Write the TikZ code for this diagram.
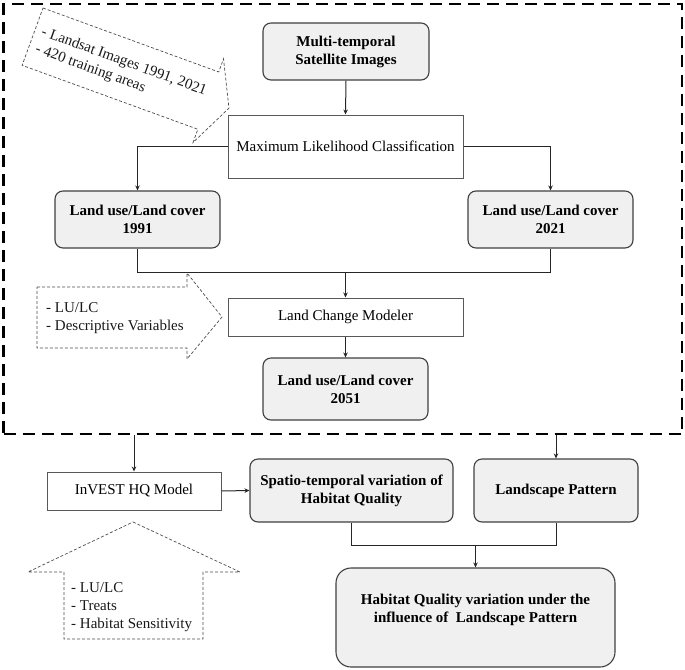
\documentclass[tikz,border=0pt]{standalone}
\usepackage{fontspec}
\setmainfont{Liberation Serif}
\usetikzlibrary{arrows.meta,calc}
\begin{document}
\begin{tikzpicture}[x=1pt,y=-1pt,
  every node/.style={font=\fontsize{15}{18}\selectfont},
  gbox/.style={draw=black!75, line width=1.1pt, fill=black!6, rounded corners=8pt, align=center,
    font=\fontsize{15}{18}\selectfont\bfseries, inner sep=0pt},
  wbox/.style={draw=black!65, line width=1pt, fill=white, align=center, inner sep=0pt},
  arr/.style={draw=black!85, line width=1pt, -{Stealth[length=5pt,width=4.5pt]}},
  ln/.style={draw=black!85, line width=1pt},
  dsh/.style={draw=black!70, line width=0.7pt, dash pattern=on 3pt off 2pt},
  txt/.style={align=left, inner sep=0pt, text=black!90},
  ]
\useasboundingbox (0,0) rectangle (685,669);

% outer dashed frame
\node[draw=black, line width=2.6pt, dash pattern=on 12pt off 7pt, minimum width=678.5pt,
  minimum height=430pt, inner sep=0pt] (outer) at (342.75,219) {};

% boxes inside
\node[gbox, minimum width=166pt, minimum height=57pt] (mts) at (346,51.5) {Multi-temporal\\Satellite Images};
\node[wbox, minimum width=235pt, minimum height=63pt] (mlc) at (345.5,146.5) {Maximum Likelihood Classification};
\node[gbox, minimum width=165pt, minimum height=57pt] (l91) at (137.5,219.5) {Land use/Land cover\\1991};
\node[gbox, minimum width=165pt, minimum height=57pt] (l21) at (550.5,219.5) {Land use/Land cover\\2021};
\node[wbox, minimum width=235pt, minimum height=38pt] (lcm) at (345.5,317) {Land Change Modeler};
\node[gbox, minimum width=165pt, minimum height=62pt] (l51) at (345.5,389) {Land use/Land cover\\2051};

% boxes outside
\node[wbox, minimum width=174pt, minimum height=38pt] (inv) at (134,491) {InVEST HQ Model};
\node[gbox, minimum width=203pt, minimum height=63pt] (spt) at (351.5,490.5) {Spatio-temporal variation of\\Habitat Quality};
\node[gbox, minimum width=164pt, minimum height=63pt] (lsp) at (556,490.5) {Landscape Pattern};
\node[gbox, rounded corners=15pt, minimum width=279pt, minimum height=99pt] (fin) at (475.5,617.5) {};
\node[align=center, inner sep=0pt, font=\fontsize{15}{18}\selectfont\bfseries] (fint) at (475.5,610)
  {Habitat Quality variation under the\\influence of\ \ Landscape Pattern};

% connectors
\draw[arr] (mts.south) -- (mlc.north);
\draw[arr] (mlc.west) -| (l91.north);
\draw[arr] (mlc.east) -| (l21.north);
\coordinate (j1) at (345.5,272);
\draw[ln] (l91.south) |- (j1);
\draw[ln] (l21.south) |- (j1);
\draw[arr] (j1) -- (lcm.north);
\draw[arr] (lcm.south) -- (l51.north);
\draw[arr] (outer.south -| inv.north) -- (inv.north);
\draw[arr] (outer.south -| lsp.north) -- (lsp.north);
\draw[arr] (inv.east) -- (spt.west);
\coordinate (j2) at (475.5,545);
\draw[ln] (spt.south) |- (j2);
\draw[ln] (lsp.south) |- (j2);
\draw[arr] (j2) -- (fin.north);

% dashed input arrows
\begin{scope}[shift={(43,8)}, rotate=-20]
  \draw[dsh] (0,0) -- (187,0) -- (187,-14) -- (209,30.5) -- (187,75) -- (187,61) -- (0,61) -- cycle;
  \node[txt, transform shape, anchor=west] (t1) at (7,32) {- Landsat Images 1991, 2021\\- 420 training areas};
\end{scope}

\draw[dsh] (37,287) -- (187,287) -- (187,273) -- (222,317) -- (187,359) -- (187,348) -- (37,348) -- cycle;
\node[txt, anchor=west] (t2) at (46,318) {- LU/LC\\- Descriptive Variables};

\draw[dsh] (133,522) -- (240,572) -- (203,572) -- (203,639) -- (64,639) -- (64,572) -- (28,572) -- cycle;
\node[txt, anchor=west] (t3) at (71,607) {- LU/LC\\- Treats\\- Habitat Sensitivity};
\end{tikzpicture}
\end{document}
